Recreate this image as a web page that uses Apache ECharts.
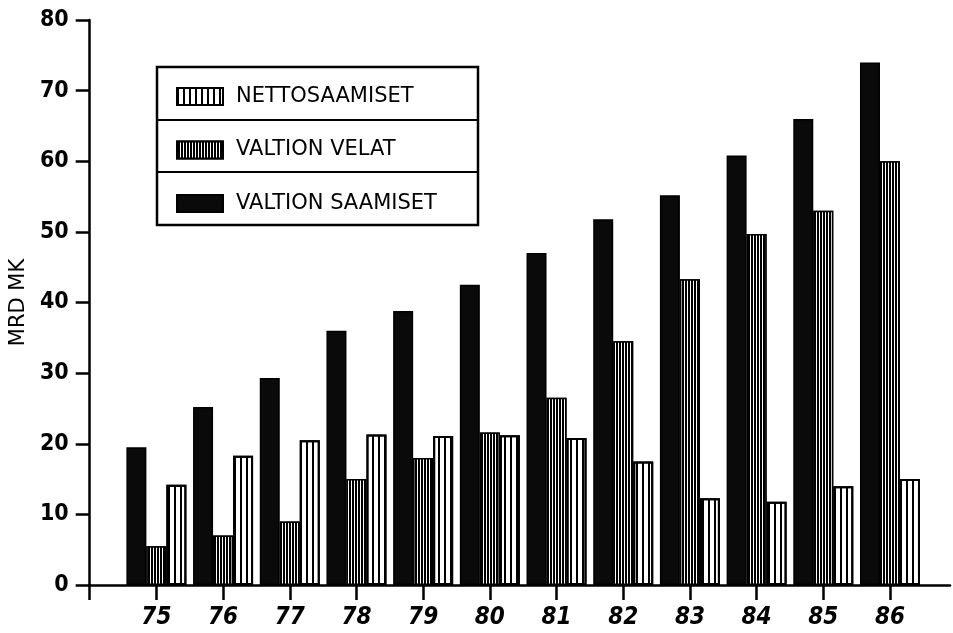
<!DOCTYPE html>
<html>
<head>
<meta charset="utf-8">
<script src="https://cdn.jsdelivr.net/npm/echarts@6/dist/echarts.min.js"></script>
<style>
html,body{margin:0;padding:0;background:#fff;}
#chart{width:953px;height:633px;}
</style>
</head>
<body>
<div id="chart"></div>
<script>
// Data
const years = [75, 76, 77, 78, 79, 80, 81, 82, 83, 84, 85, 86];
const valtionSaamiset = [19.5, 25.2, 29.3, 36.0, 38.8, 42.5, 47.0, 51.8, 55.2, 60.8, 66.0, 74.0];
const valtionVelat    = [5.5, 7.0, 9.0, 15.0, 18.0, 21.6, 26.5, 34.5, 43.3, 49.7, 53.0, 60.0];
const nettosaamiset   = [14.2, 18.3, 20.5, 21.3, 21.1, 21.2, 20.8, 17.5, 12.3, 11.8, 14.0, 15.0];
const yTicks = [0, 10, 20, 30, 40, 50, 60, 70, 80];
const names = ['NETTOSAAMISET', 'VALTION VELAT', 'VALTION SAAMISET'];

const tickFont = "'DejaVu Sans Condensed','Liberation Sans Narrow','Arial Narrow',sans-serif";
const textFont = "'DejaVu Sans',sans-serif";

function pairs(vals){ return years.map((y,i)=>[y, vals[i]]); }

const chart = echarts.init(document.getElementById('chart'));
chart.setOption({
  backgroundColor: '#fff',
  animation: false,
  grid: {left: 86, right: 3, top: 20, bottom: 48},
  xAxis: {
    type: 'value', min: 74, max: 86.9, interval: 1,
    axisLine: {show: true, onZero: false, lineStyle: {color: '#000', width: 2.5}},
    axisTick: {show: true, length: 15, lineStyle: {color: '#000', width: 2.5},
      customValues: [74].concat(years)},
    axisLabel: {customValues: years, color: '#000', fontFamily: tickFont, fontWeight: 'bold',
      fontSize: 24, margin: 21, fontStyle: 'italic'},
    splitLine: {show: false}
  },
  yAxis: {
    type: 'value', min: 0, max: 80, interval: 10,
    name: 'MRD MK', nameLocation: 'middle', nameGap: 58, nameRotate: 90,
    nameTextStyle: {color: '#000', fontFamily: textFont, fontSize: 21},
    axisLine: {show: true, lineStyle: {color: '#000', width: 2.5}},
    axisTick: {show: true, length: 14, lineStyle: {color: '#000', width: 2.5}},
    axisLabel: {customValues: yTicks, color: '#000', fontFamily: tickFont, fontWeight: 'bold',
      fontSize: 23, margin: 21},
    splitLine: {show: false}
  },
  legend: {
    data: names, orient: 'vertical', left: 171, top: 81, icon: 'rect',
    itemWidth: 46, itemHeight: 17, itemGap: 32.5,
    textStyle: {color: '#000', fontFamily: textFont, fontSize: 21, lineHeight: 20, padding: [0,0,0,8]}
  },
  graphic: [
    {type: 'rect', shape: {x: 157, y: 67, width: 321, height: 158}, style: {fill: 'none', stroke: '#000', lineWidth: 2.5}, z: 100},
    {type: 'line', shape: {x1: 157, y1: 120, x2: 478, y2: 120}, style: {stroke: '#000', lineWidth: 2}, z: 100},
    {type: 'line', shape: {x1: 157, y1: 172, x2: 478, y2: 172}, style: {stroke: '#000', lineWidth: 2}, z: 100}
  ],
  series: [
    {
      name: 'VALTION SAAMISET', type: 'bar', data: pairs(valtionSaamiset),
      barWidth: 20, barGap: '0%',
      itemStyle: {color: '#0a0a0a', borderColor: '#000', borderWidth: 1.5}
    },
    {
      name: 'VALTION VELAT', type: 'bar', data: pairs(valtionVelat),
      barWidth: 20, barGap: '0%',
      itemStyle: {color: '#000', borderColor: '#000', borderWidth: 1.5,
        decal: {symbol: 'rect', symbolSize: 1, color: '#fff', dashArrayX: [1, 2], dashArrayY: [1, 0], rotation: 0}}
    },
    {
      name: 'NETTOSAAMISET', type: 'bar', data: pairs(nettosaamiset),
      barWidth: 20, barGap: '0%',
      itemStyle: {color: '#fff', borderColor: '#000', borderWidth: 2,
        decal: {symbol: 'rect', symbolSize: 1, color: '#000', dashArrayX: [2, 3.5], dashArrayY: [1, 0], rotation: 0}}
    }
  ]
});
</script>
</body>
</html>
